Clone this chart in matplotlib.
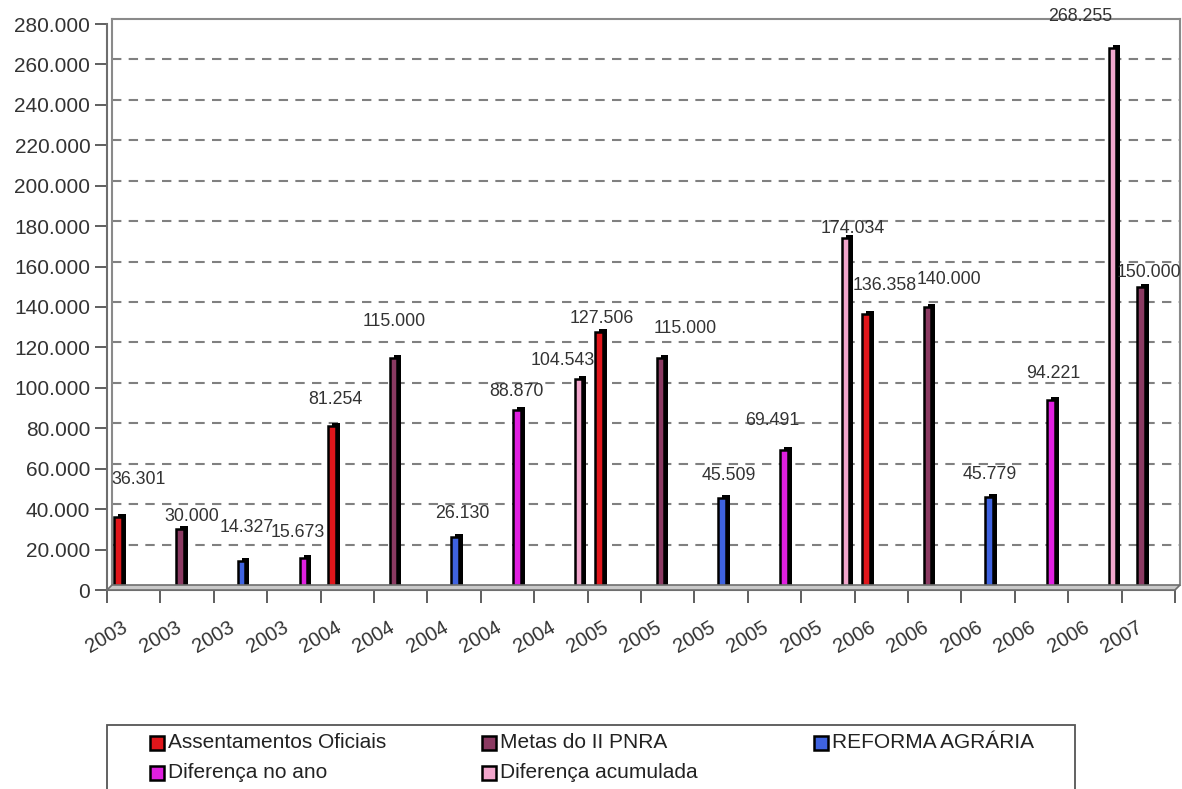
import matplotlib
matplotlib.use('Agg')
import matplotlib.pyplot as plt
import matplotlib.transforms as mtransforms
from matplotlib.patches import Rectangle, Polygon
import numpy as np

plt.rcParams['font.family'] = ['Liberation Sans', 'DejaVu Sans']

nan = np.nan
anos = ['2003'] * 4 + ['2004'] * 5 + ['2005'] * 5 + ['2006'] * 5 + ['2007']

assentamentos = [36301, nan, nan, nan, 81254, nan, nan, nan, nan, 127506,
                 nan, nan, nan, nan, 136358, nan, nan, nan, nan, nan]
metas = [nan, 30000, nan, nan, nan, 115000, nan, nan, nan, nan,
         115000, nan, nan, nan, nan, 140000, nan, nan, nan, 150000]
reforma = [nan, nan, 14327, nan, nan, nan, 26130, nan, nan, nan,
           nan, 45509, nan, nan, nan, nan, 45779, nan, nan, nan]
dif_ano = [nan, nan, nan, 15673, nan, nan, nan, 88870, nan, nan,
           nan, nan, 69491, nan, nan, nan, nan, 94221, nan, nan]
dif_acum = [nan, nan, nan, nan, nan, nan, nan, nan, 104543, nan,
            nan, nan, nan, 174034, nan, nan, nan, nan, 268255, nan]

nomes = ['Assentamentos Oficiais', 'Metas do II PNRA', 'REFORMA AGRÁRIA',
         'Diferença no ano', 'Diferença acumulada']
series = [assentamentos, metas, reforma, dif_ano, dif_acum]
cores = ['#e0161b', '#8b3a62', '#3f63e0', '#e020e0', '#f2a6cc']

# label nudges in pixels (dx, dy above bar top), one per category
label_offsets = [(19, 37), (11, 13), (4, 34), (-6, 26), (3, 26), (0, 36), (6, 24),
                 (-1, 19), (-17, 18), (2, 14), (24, 29), (6, 23), (-13, 29), (6, 10),
                 (18, 29), (20, 28), (0, 23), (1, 26), (-33, 31), (7, 14)]

W, H = 1182, 789
fig = plt.figure(figsize=(W / 100, H / 100), dpi=100)
ax = fig.add_axes([107 / W, 1 - 590 / H, 1068 / W, 566 / H])
ax.set_xlim(0, 20)
ax.set_ylim(0, 280000)

depth = mtransforms.offset_copy(ax.transData, fig=fig, x=5, y=5, units='dots')
shadow = mtransforms.offset_copy(ax.transData, fig=fig, x=4, y=3, units='dots')

# back wall grid and frame
for y in range(20000, 280000, 20000):
    ax.plot([0, 20], [y, y], transform=depth, color='#808080', lw=1.5,
            ls=(0, (4.5, 3.5)), zorder=1, clip_on=False)
ax.plot([0, 20], [280000, 280000], transform=depth, color='#8a8a8a', lw=1.5, clip_on=False)
ax.plot([20, 20], [0, 280000], transform=depth, color='#8a8a8a', lw=1.5, clip_on=False)
ax.plot([0, 0], [0, 280000], transform=depth, color='#8a8a8a', lw=1.5, clip_on=False)

# floor
p0 = ax.transData.transform((0, 0))
p1 = ax.transData.transform((20, 0))
floor = Polygon([p0, p1, p1 + 5, p0 + 5], closed=True, facecolor='#c9c9c9',
                edgecolor='#6e6e6e', lw=1.2, transform=mtransforms.IdentityTransform(),
                zorder=1.5)
fig.add_artist(floor)

for s in ['top', 'right']:
    ax.spines[s].set_visible(False)
ax.spines['left'].set_color('#6e6e6e')
ax.spines['left'].set_linewidth(1.5)
ax.spines['bottom'].set_color('#6e6e6e')
ax.spines['bottom'].set_linewidth(1.5)

# bars
for k, (vals, cor) in enumerate(zip(series, cores)):
    xs = np.arange(20) + 0.52 + (k - 2) * 0.155
    vals = np.array(vals, dtype=float)
    m = ~np.isnan(vals)
    back = ax.bar(xs[m], vals[m], width=0.14, color='black', zorder=2.5)
    for r in back:
        r.set_transform(shadow)
        r.set_clip_on(False)
    ax.bar(xs[m], vals[m], width=0.14, color=cor, edgecolor='black', linewidth=1.8, zorder=3)
    for x, v, i in zip(xs[m], vals[m], np.arange(20)[m]):
        dx, dy = label_offsets[i]
        ax.annotate(f"{v:,.0f}".replace(',', '.'), (x, v), xytext=(dx + 1, dy),
                    textcoords='offset pixels', ha='center', va='center',
                    fontsize=12.8, color='#333333', annotation_clip=False, zorder=5)

ax.set_xticks(range(21))
ax.set_xticklabels(anos + [''], rotation=30, ha='center')
ax.tick_params(axis='x', length=9, width=1.2, color='#444444', pad=11,
               labelsize=14.5, labelcolor='#333333')
yt = list(range(0, 280001, 20000))
ax.set_yticks(yt)
ax.set_yticklabels([f"{v:,}".replace(',', '.') for v in yt])
ax.tick_params(axis='y', length=9, width=1.2, color='#444444', pad=3,
               labelsize=15, labelcolor='#333333')

# legend box
fig.add_artist(Rectangle((107 / W, 1 - 800 / H), 968 / W, 75 / H, transform=fig.transFigure,
                         fill=False, edgecolor='#555555', lw=1.3))
cols = [150, 482, 814]
rows = [743, 773]
for n, (nome, cor) in enumerate(zip(nomes, cores)):
    x = cols[n % 3]
    y = rows[n // 3]
    fig.add_artist(Rectangle((x / W, 1 - (y + 7) / H), 14 / W, 14 / H, transform=fig.transFigure,
                             facecolor=cor, edgecolor='black', lw=1.8))
    fig.text((x + 18) / W, 1 - y / H, nome, fontsize=15, va='center', ha='left', color='#222222')

fig.savefig('out.png', dpi=100)
